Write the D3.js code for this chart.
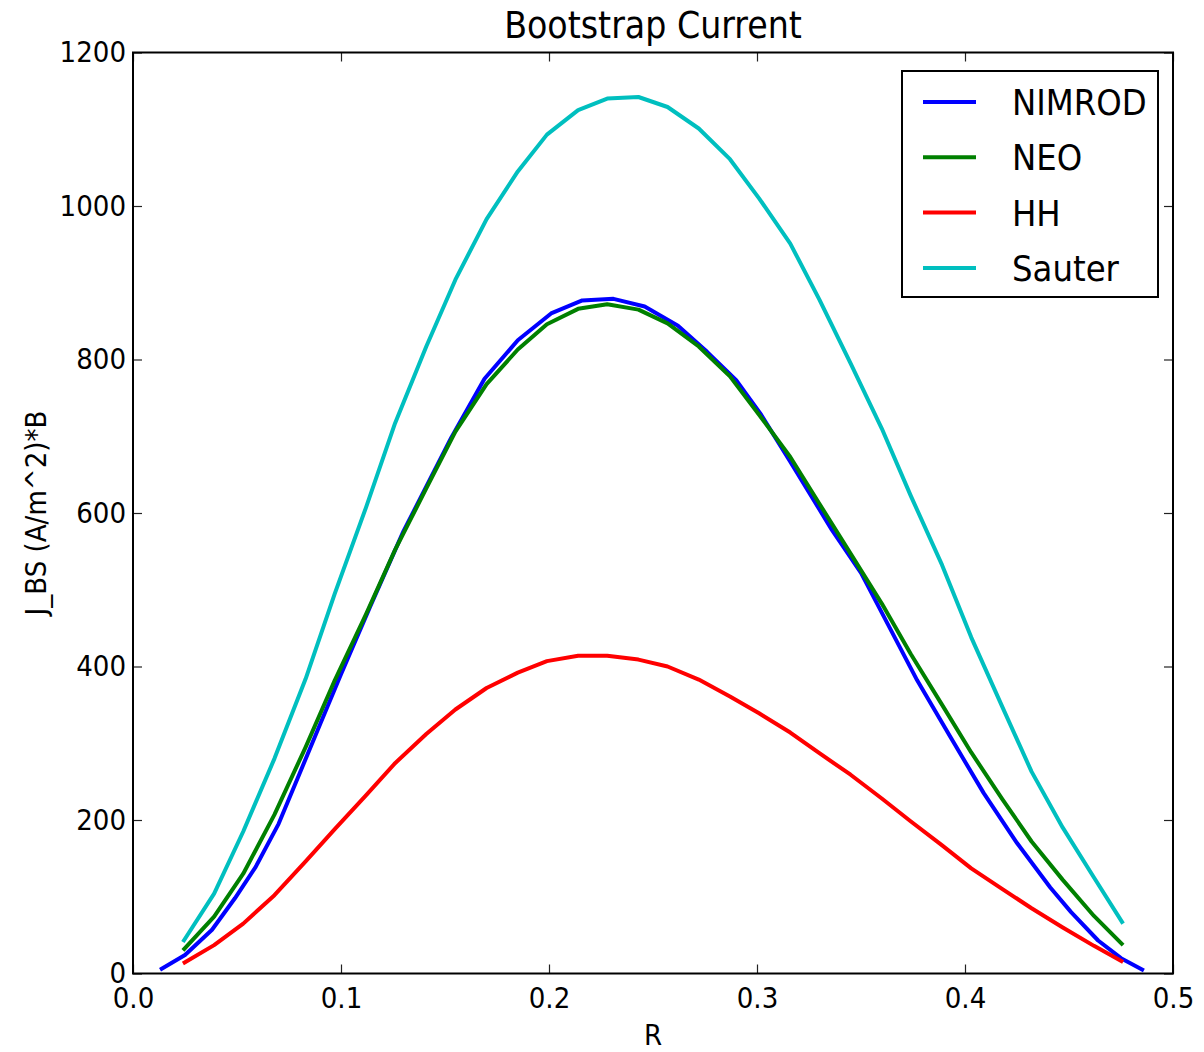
<!DOCTYPE html>
<html>
<head>
<meta charset="utf-8">
<script src="https://cdn.jsdelivr.net/npm/d3@7"></script>
<style>
  body { margin: 0; background: #fff; }
  svg text { font-family: "DejaVu Sans Condensed", "DejaVu Sans", sans-serif; font-stretch: condensed; fill: #000; }
</style>
</head>
<body>
<div id="chart"></div>
<script>
// R grid shared by NEO, HH and Sauter
var rGrid = [0.024, 0.039, 0.053, 0.068, 0.083, 0.097, 0.112, 0.126, 0.141, 0.155,
             0.170, 0.185, 0.199, 0.214, 0.228, 0.243, 0.257, 0.272, 0.287, 0.301,
             0.316, 0.330, 0.345, 0.360, 0.374, 0.389, 0.403, 0.418, 0.432, 0.447,
             0.462, 0.476];

var neo = [30, 74, 130, 207, 295, 382, 468, 552, 632, 706,
           768, 813, 846, 866, 872, 865, 847, 817, 778, 728,
           673, 612, 547, 482, 416, 350, 288, 227, 172, 122,
           75, 37];

var hh = [13, 37, 65, 102, 146, 188, 232, 274, 312, 344,
          372, 392, 407, 414, 414, 409, 400, 383, 361, 339,
          314, 287, 259, 228, 198, 167, 137, 110, 85, 60,
          36, 15];

var sauter = [41, 104, 185, 280, 384, 495, 607, 717, 817, 904,
              983, 1045, 1093, 1125, 1140, 1142, 1129, 1101, 1061, 1010,
              951, 878, 795, 710, 622, 532, 438, 347, 263, 190,
              125, 65];

// NIMROD has its own grid
var rNimrod = [0.013, 0.025, 0.038, 0.049, 0.059, 0.070, 0.080, 0.090, 0.100, 0.114,
               0.130, 0.143, 0.153, 0.169, 0.185, 0.201, 0.216, 0.231, 0.246, 0.262,
               0.276, 0.290, 0.302, 0.316, 0.336, 0.350, 0.361, 0.377, 0.393, 0.409,
               0.425, 0.441, 0.451, 0.464, 0.475, 0.486];
var nimrod = [5, 24, 57, 98, 139, 195, 260, 325, 390, 478,
              576, 645, 698, 775, 825, 860, 877, 879, 869, 844,
              810, 773, 728, 667, 578, 522, 465, 382, 308, 235,
              170, 112, 80, 43, 20, 4];

var seriesNames = ["NIMROD", "NEO", "HH", "Sauter"];
var seriesColors = ["#0000ff", "#008000", "#ff0000", "#00bfbf"];

var xTicks = [0.0, 0.1, 0.2, 0.3, 0.4, 0.5];
var yTicks = [0, 200, 400, 600, 800, 1000, 1200];

var W = 1204, H = 1052;
var margin = {top: 52.5, right: 31, bottom: 78.5, left: 133};
var width = W - margin.left - margin.right,
    height = H - margin.top - margin.bottom;

var svg = d3.select("#chart").append("svg")
  .attr("width", W)
  .attr("height", H);

var g = svg.append("g")
  .attr("transform", "translate(" + margin.left + "," + margin.top + ")");

var x = d3.scaleLinear().domain([0, 0.5]).range([0, width]);
var y = d3.scaleLinear().domain([0, 1200]).range([height, 0]);

// lines
var data = [
  rNimrod.map(function(r, i) { return [r, nimrod[i]]; }),
  rGrid.map(function(r, i) { return [r, neo[i]]; }),
  rGrid.map(function(r, i) { return [r, hh[i]]; }),
  rGrid.map(function(r, i) { return [r, sauter[i]]; })
];

var line = d3.line()
  .x(function(d) { return x(d[0]); })
  .y(function(d) { return y(d[1]); });

g.selectAll(".series")
  .data(data)
  .enter()
  .append("path")
  .attr("d", line)
  .attr("fill", "none")
  .attr("stroke", function(d, i) { return seriesColors[i]; })
  .attr("stroke-width", 4)
  .attr("stroke-linejoin", "round");

// axes, ticks pointing inwards
var fmtX = d3.format(".1f");
g.append("g")
  .attr("transform", "translate(0," + height + ")")
  .call(d3.axisBottom(x).tickValues(xTicks).tickFormat(fmtX)
    .tickSizeInner(-9).tickSizeOuter(0).tickPadding(14));
g.append("g")
  .call(d3.axisTop(x).tickValues(xTicks).tickFormat("")
    .tickSizeInner(-9).tickSizeOuter(0));
g.append("g")
  .call(d3.axisLeft(y).tickValues(yTicks).tickFormat(d3.format("d"))
    .tickSizeInner(-9).tickSizeOuter(0).tickPadding(7));
g.append("g")
  .attr("transform", "translate(" + width + ",0)")
  .call(d3.axisRight(y).tickValues(yTicks).tickFormat("")
    .tickSizeInner(-9).tickSizeOuter(0));

g.selectAll(".domain").remove();
g.selectAll(".tick line").attr("stroke", "#222").attr("stroke-width", 1.2);
g.selectAll(".tick text").style("font-size", "29px").attr("fill", "#000");

// frame
g.append("rect")
  .attr("x", 0).attr("y", 0)
  .attr("width", width).attr("height", height)
  .attr("fill", "none")
  .attr("stroke", "#000")
  .attr("stroke-width", 2);

// title and labels
svg.append("text")
  .attr("x", margin.left + width / 2)
  .attr("y", 38)
  .attr("text-anchor", "middle")
  .style("font-size", "37px")
  .text("Bootstrap Current");

svg.append("text")
  .attr("x", margin.left + width / 2)
  .attr("y", 1045)
  .attr("text-anchor", "middle")
  .style("font-size", "29px")
  .text("R");

svg.append("text")
  .attr("transform", "translate(46," + (margin.top + height / 2) + ") rotate(-90)")
  .attr("text-anchor", "middle")
  .style("font-size", "29px")
  .text("J_BS (A/m^2)*B");

// legend
var legend = svg.append("g").attr("transform", "translate(902,71)");
legend.append("rect")
  .attr("width", 256).attr("height", 226)
  .attr("fill", "#fff")
  .attr("stroke", "#000")
  .attr("stroke-width", 2);

var items = legend.selectAll(".item")
  .data(seriesNames)
  .enter()
  .append("g")
  .attr("transform", function(d, i) { return "translate(0," + (31 + i * 55.3) + ")"; });

items.append("line")
  .attr("x1", 21).attr("x2", 74)
  .attr("stroke", function(d, i) { return seriesColors[i]; })
  .attr("stroke-width", 4);

items.append("text")
  .attr("x", 110)
  .attr("dy", "0.36em")
  .style("font-size", "36px")
  .text(function(d) { return d; });
</script>
</body>
</html>
